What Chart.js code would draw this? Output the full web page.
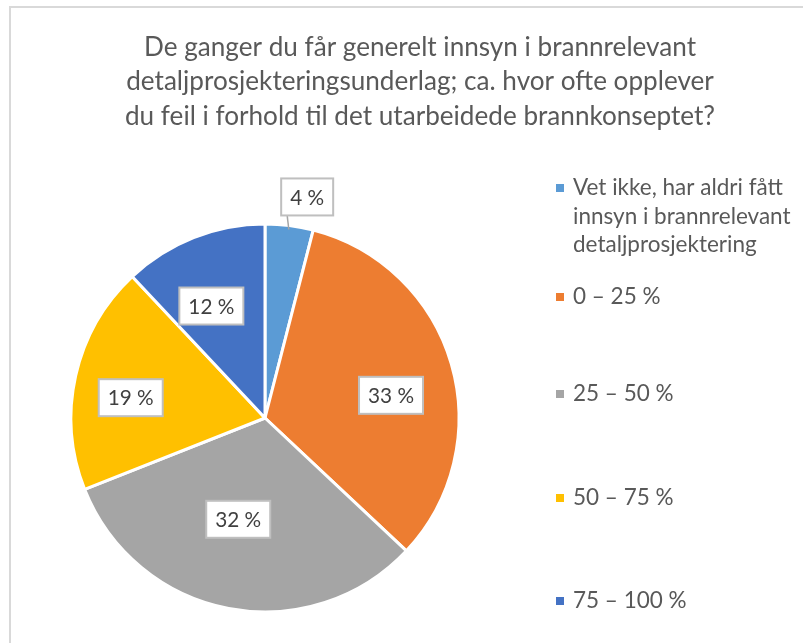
<!DOCTYPE html>
<html>
<head>
<meta charset="utf-8">
<script src="https://cdn.jsdelivr.net/npm/chart.js@4/dist/chart.umd.min.js"></script>
<style>
  html, body { margin: 0; padding: 0; background: #ffffff; }
  #wrap { position: relative; width: 804px; height: 643px; }
  canvas { display: block; }
</style>
</head>
<body>
<div id="wrap"><canvas id="c" width="804" height="643"></canvas></div>
<script>
// ---- Data ----
const titleLines = [
  "De ganger du får generelt innsyn i brannrelevant",
  "detaljprosjekteringsunderlag; ca. hvor ofte opplever",
  "du feil i forhold til det utarbeidede brannkonseptet?"
];
const categories = [
  ["Vet ikke, har aldri fått", "innsyn i brannrelevant", "detaljprosjektering"],
  ["0 – 25 %"],
  ["25 – 50 %"],
  ["50 – 75 %"],
  ["75 – 100 %"]
];
const values = [4, 33, 32, 19, 12];
const valueLabels = ["4 %", "33 %", "32 %", "19 %", "12 %"];
const colors = ["#5B9BD5", "#ED7D31", "#A5A5A5", "#FFC000", "#4472C4"];

const FONT = "Lato, 'Open Sans', 'Liberation Sans', sans-serif";
const TEXT_COLOR = "#595959";

function fitFont(ctx, text, targetWidth, weight) {
  let size = 20;
  ctx.font = (weight || "") + " " + size + "px " + FONT;
  const w = ctx.measureText(text).width;
  return size * targetWidth / w;
}

// Frame + title plugin
const framePlugin = {
  id: 'frame',
  beforeDraw(chart) {
    const ctx = chart.ctx;
    ctx.save();
    ctx.fillStyle = "#ffffff";
    ctx.fillRect(0, 0, chart.width, chart.height);
    ctx.strokeStyle = "#D9D9D9";
    ctx.lineWidth = 2;
    ctx.beginPath();
    ctx.moveTo(10, 660);
    ctx.lineTo(10, 7);
    ctx.lineTo(803, 7);
    ctx.stroke();
    // title
    const fs = fitFont(ctx, titleLines[1], 588);
    ctx.font = fs + "px " + FONT;
    ctx.fillStyle = TEXT_COLOR;
    ctx.textAlign = "center";
    ctx.textBaseline = "middle";
    const ys = [48, 82, 117];
    titleLines.forEach((t, i) => ctx.fillText(t, 420, ys[i]));
    ctx.restore();
  }
};

// Custom legend plugin
const legendPlugin = {
  id: 'customLegend',
  afterDraw(chart) {
    const ctx = chart.ctx;
    ctx.save();
    const fs = fitFont(ctx, categories[0][0], 210);
    ctx.font = fs + "px " + FONT;
    ctx.textAlign = "left";
    ctx.textBaseline = "middle";
    const itemY = [188, 297, 394, 498, 601];
    const lineH = 28.5;
    categories.forEach((lines, i) => {
      ctx.fillStyle = colors[i];
      ctx.fillRect(556, itemY[i] - 4, 8, 8);
      ctx.fillStyle = TEXT_COLOR;
      lines.forEach((ln, j) => ctx.fillText(ln, 573, itemY[i] + j * lineH));
    });
    ctx.restore();
  }
};

// Data label plugin (boxed labels)
const labelPlugin = {
  id: 'boxLabels',
  afterDatasetsDraw(chart, args, opts) {
    const ctx = chart.ctx;
    const meta = chart.getDatasetMeta(0);
    ctx.save();
    const fs = fitFont(ctx, valueLabels[1], 46);
    ctx.font = fs + "px " + FONT;
    ctx.textAlign = "center";
    ctx.textBaseline = "middle";
    meta.data.forEach((arc, i) => {
      const p = arc.getProps(['x', 'y', 'startAngle', 'endAngle', 'outerRadius'], true);
      const mid = (p.startAngle + p.endAngle) / 2 + opts.angleShift[i] * Math.PI / 180;
      const r = p.outerRadius * opts.radial[i];
      const cx = p.x + Math.cos(mid) * r;
      const cy = p.y + Math.sin(mid) * r;
      const tw = ctx.measureText(valueLabels[i]).width;
      const bw = Math.round(tw + 18), bh = 37;
      const bx = cx - bw / 2, by = cy - bh / 2;
      if (opts.radial[i] > 1) {
        // leader line
        const m0 = (p.startAngle + p.endAngle) / 2;
        const ex = p.x + Math.cos(m0) * (p.outerRadius - 4);
        const ey = p.y + Math.sin(m0) * (p.outerRadius - 4);
        ctx.strokeStyle = "#A6A6A6";
        ctx.lineWidth = 1.5;
        ctx.beginPath();
        ctx.moveTo(bx + 6, by + bh);
        ctx.lineTo(ex, ey);
        ctx.stroke();
      }
      ctx.fillStyle = "#ffffff";
      ctx.fillRect(bx, by, bw, bh);
      ctx.strokeStyle = "#BFBFBF";
      ctx.lineWidth = 2;
      ctx.strokeRect(bx, by, bw, bh);
      ctx.fillStyle = "#404040";
      ctx.fillText(valueLabels[i], cx, cy + 1);
    });
    ctx.restore();
  }
};

new Chart(document.getElementById('c'), {
  type: 'pie',
  data: {
    labels: categories.map(c => c.join(' ')),
    datasets: [{
      data: values,
      backgroundColor: colors,
      borderColor: "#ffffff",
      borderWidth: 3
    }]
  },
  options: {
    responsive: false,
    animation: false,
    radius: 194,
    layout: { padding: { left: 65, right: 339, top: 218, bottom: 25 } },
    plugins: {
      legend: { display: false },
      title: { display: false },
      tooltip: { enabled: false },
      boxLabels: {
        radial: [1.16, 0.66, 0.54, 0.70, 0.64],
        angleShift: [3.6, 6, 4, -4, -4]
      }
    }
  },
  plugins: [framePlugin, labelPlugin, legendPlugin]
});
</script>
</body>
</html>
